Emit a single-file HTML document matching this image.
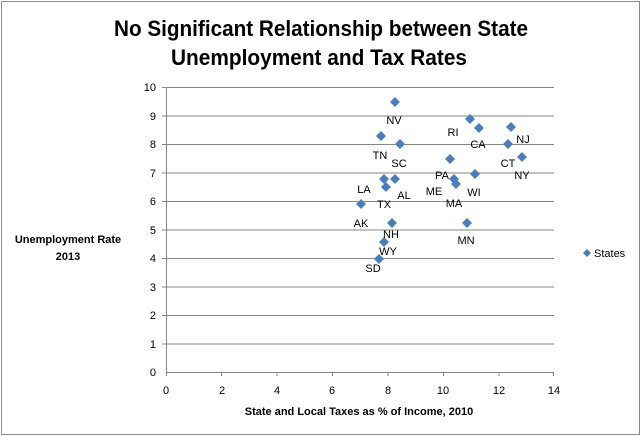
<!DOCTYPE html>
<html><head><style>body{margin:0;background:#fff}svg{display:block}text{font-family:"Liberation Sans",sans-serif}</style></head><body>
<svg width="641" height="436" viewBox="0 0 641 436" xmlns="http://www.w3.org/2000/svg">
<rect x="1.5" y="1.5" width="638" height="433" fill="#fff" stroke="#8c8c8c"/>
<text x="114" y="36" font-size="22" font-weight="bold" textLength="414" lengthAdjust="spacingAndGlyphs">No Significant Relationship between State</text>
<text x="171" y="65" font-size="22" font-weight="bold" textLength="296" lengthAdjust="spacingAndGlyphs">Unemployment and Tax Rates</text>
<g stroke="#868686" stroke-width="1">
<line x1="166" y1="87.5" x2="554" y2="87.5"/><line x1="166" y1="116" x2="554" y2="116"/><line x1="166" y1="144.5" x2="554" y2="144.5"/><line x1="166" y1="173" x2="554" y2="173"/><line x1="166" y1="201.5" x2="554" y2="201.5"/><line x1="166" y1="230" x2="554" y2="230"/><line x1="166" y1="258.5" x2="554" y2="258.5"/><line x1="166" y1="287" x2="554" y2="287"/><line x1="166" y1="315.5" x2="554" y2="315.5"/><line x1="166" y1="344" x2="554" y2="344"/><line x1="166" y1="372.5" x2="554" y2="372.5"/>
<line x1="166.5" y1="87" x2="166.5" y2="376"/>
<line x1="162" y1="87.5" x2="166" y2="87.5"/><line x1="162" y1="116" x2="166" y2="116"/><line x1="162" y1="144.5" x2="166" y2="144.5"/><line x1="162" y1="173" x2="166" y2="173"/><line x1="162" y1="201.5" x2="166" y2="201.5"/><line x1="162" y1="230" x2="166" y2="230"/><line x1="162" y1="258.5" x2="166" y2="258.5"/><line x1="162" y1="287" x2="166" y2="287"/><line x1="162" y1="315.5" x2="166" y2="315.5"/><line x1="162" y1="344" x2="166" y2="344"/>
<line x1="221.5" y1="372" x2="221.5" y2="376"/><line x1="277" y1="372" x2="277" y2="376"/><line x1="332.5" y1="372" x2="332.5" y2="376"/><line x1="388" y1="372" x2="388" y2="376"/><line x1="443.5" y1="372" x2="443.5" y2="376"/><line x1="499" y1="372" x2="499" y2="376"/><line x1="553.5" y1="372" x2="553.5" y2="376"/>
</g>
<g font-size="11" text-anchor="end">
<text x="156" y="91">10</text><text x="156" y="120">9</text><text x="156" y="148">8</text><text x="156" y="177">7</text><text x="156" y="205">6</text><text x="156" y="234">5</text><text x="156" y="262">4</text><text x="156" y="291">3</text><text x="156" y="319">2</text><text x="156" y="348">1</text><text x="156" y="376">0</text>
</g>
<g font-size="11" text-anchor="middle">
<text x="166" y="394">0</text><text x="222" y="394">2</text><text x="277" y="394">4</text><text x="332" y="394">6</text><text x="388" y="394">8</text><text x="443" y="394">10</text><text x="499" y="394">12</text><text x="554" y="394">14</text>
</g>
<text x="359" y="415" font-size="11" font-weight="bold" text-anchor="middle">State and Local Taxes as % of Income, 2010</text>
<text x="68" y="243" font-size="11" font-weight="bold" text-anchor="middle">Unemployment Rate</text>
<text x="68" y="260" font-size="11" font-weight="bold" text-anchor="middle">2013</text>
<g fill="#4a7ebb">
<path d="M0,-5L5,0L0,5L-5,0Z" transform="translate(395,102)"/>
<path d="M0,-5L5,0L0,5L-5,0Z" transform="translate(470,119)"/>
<path d="M0,-5L5,0L0,5L-5,0Z" transform="translate(479,128)"/>
<path d="M0,-5L5,0L0,5L-5,0Z" transform="translate(511,127)"/>
<path d="M0,-5L5,0L0,5L-5,0Z" transform="translate(381,136)"/>
<path d="M0,-5L5,0L0,5L-5,0Z" transform="translate(400,144)"/>
<path d="M0,-5L5,0L0,5L-5,0Z" transform="translate(508,144)"/>
<path d="M0,-5L5,0L0,5L-5,0Z" transform="translate(522,157)"/>
<path d="M0,-5L5,0L0,5L-5,0Z" transform="translate(450,159)"/>
<path d="M0,-5L5,0L0,5L-5,0Z" transform="translate(475,174)"/>
<path d="M0,-5L5,0L0,5L-5,0Z" transform="translate(384,179)"/>
<path d="M0,-5L5,0L0,5L-5,0Z" transform="translate(395,179)"/>
<path d="M0,-5L5,0L0,5L-5,0Z" transform="translate(454,179)"/>
<path d="M0,-5L5,0L0,5L-5,0Z" transform="translate(386,187)"/>
<path d="M0,-5L5,0L0,5L-5,0Z" transform="translate(456,184)"/>
<path d="M0,-5L5,0L0,5L-5,0Z" transform="translate(361,204)"/>
<path d="M0,-5L5,0L0,5L-5,0Z" transform="translate(392,223)"/>
<path d="M0,-5L5,0L0,5L-5,0Z" transform="translate(467,223)"/>
<path d="M0,-5L5,0L0,5L-5,0Z" transform="translate(384,242)"/>
<path d="M0,-5L5,0L0,5L-5,0Z" transform="translate(379,259)"/>
<path d="M0,-4L4,0L0,4L-4,0Z" transform="translate(587,253)"/>
</g>
<g font-size="11" text-anchor="middle">
<text x="394" y="124">NV</text><text x="453" y="136">RI</text><text x="478" y="148">CA</text><text x="523" y="143">NJ</text>
<text x="380" y="159">TN</text><text x="399" y="167">SC</text><text x="508" y="167">CT</text><text x="522" y="179">NY</text>
<text x="442" y="179">PA</text><text x="364" y="193">LA</text><text x="434" y="195">ME</text><text x="474" y="196">WI</text>
<text x="404" y="199">AL</text><text x="384" y="208">TX</text><text x="454" y="207">MA</text><text x="361" y="227">AK</text>
<text x="391" y="238">NH</text><text x="466" y="244">MN</text><text x="388" y="255">WY</text><text x="373" y="272">SD</text>
</g>
<text x="594" y="257" font-size="11">States</text>
</svg>
</body></html>
